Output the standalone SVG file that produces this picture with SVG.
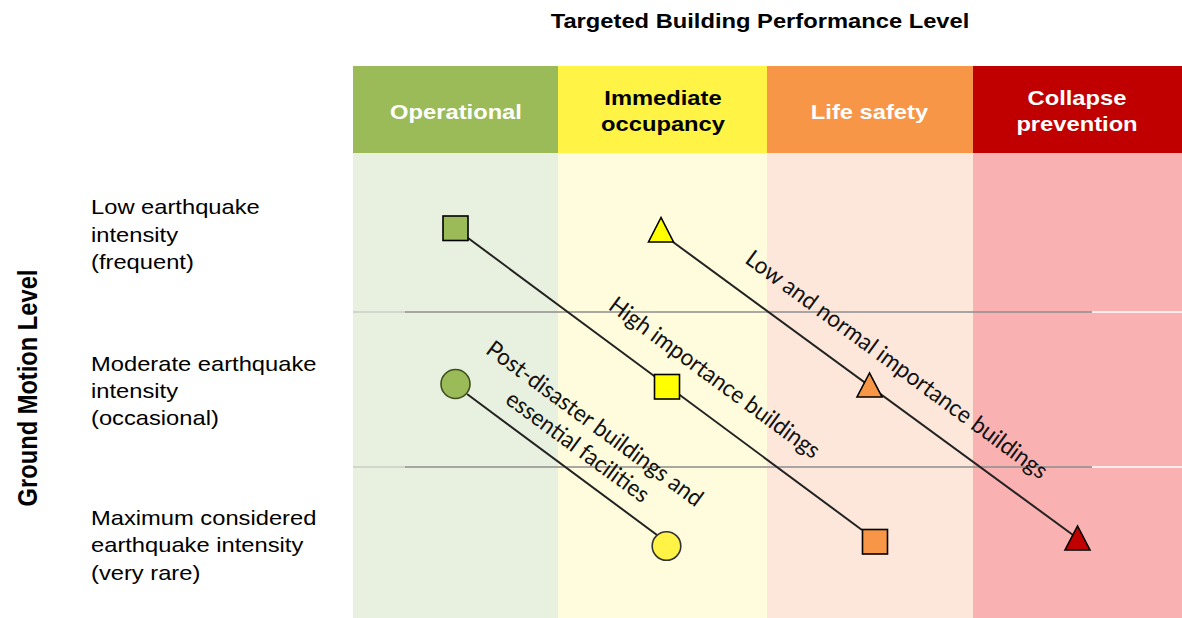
<svg xmlns="http://www.w3.org/2000/svg" width="1182" height="618" viewBox="0 0 1182 618">
  <style>
    .sans { font-family: "Liberation Sans", Arial, sans-serif; font-size: 21px; fill: #000; }
    .bold { font-weight: bold; }
    .hdr { font-family: "Liberation Sans", Arial, sans-serif; font-size: 21px; font-weight: bold; text-anchor: middle; }
    .diag { font-family: Lato, "Open Sans", sans-serif; font-size: 23.5px; fill: #111; text-anchor: middle; }
    .conn { stroke: #222; stroke-width: 2; fill: none; }
    .mark { stroke: #000; stroke-width: 1.6; }
    .divider { stroke-width: 1.5; }
  </style>

  <rect width="1182" height="618" fill="#ffffff"/>

  <!-- column body shading -->
  <g id="columns">
    <rect x="353" y="153" width="205" height="465" fill="#E8F0DF"/>
    <rect x="558" y="153" width="209" height="465" fill="#FEFCDC"/>
    <rect x="767" y="153" width="206" height="465" fill="#FCE7DA"/>
    <rect x="973" y="153" width="209" height="465" fill="#F9B1B1"/>
  </g>

  <!-- row dividers -->
  <g id="dividers">
    <line class="divider" x1="353" y1="312" x2="405" y2="312" stroke="#C9CEC2"/>
    <line class="divider" x1="405" y1="312" x2="1092" y2="312" stroke="#8E8E8E"/>
    <line class="divider" x1="1092" y1="312" x2="1182" y2="312" stroke="#FFFFFF"/>
    <line class="divider" x1="353" y1="467" x2="405" y2="467" stroke="#C9CEC2"/>
    <line class="divider" x1="405" y1="467" x2="1092" y2="467" stroke="#8E8E8E"/>
    <line class="divider" x1="1092" y1="467" x2="1182" y2="467" stroke="#FFFFFF"/>
  </g>

  <!-- axis titles -->
  <g id="title-top">
    <text class="sans bold" transform="matrix(1.13 0 0 1 760 27.5)" x="0" y="0" text-anchor="middle">Targeted Building Performance Level</text>
  </g>
  <g id="title-side">
    <text class="sans bold" style="font-size:23.7px" transform="matrix(1.13 0 0 1 36.5 388) rotate(-90)" x="0" y="0" text-anchor="middle">Ground Motion Level</text>
  </g>

  <!-- performance level headers -->
  <g id="hdr-operational">
    <rect x="353" y="66" width="205" height="87" fill="#9BBB59"/>
    <text class="hdr" fill="#FFFFFF" transform="matrix(1.13 0 0 1 456 118.5)">Operational</text>
  </g>
  <g id="hdr-immediate">
    <rect x="558" y="66" width="209" height="87" fill="#FFF445"/>
    <text class="hdr" fill="#000000" transform="matrix(1.13 0 0 1 663 105)">Immediate</text>
    <text class="hdr" fill="#000000" transform="matrix(1.13 0 0 1 663 131)">occupancy</text>
  </g>
  <g id="hdr-life">
    <rect x="767" y="66" width="206" height="87" fill="#F79646"/>
    <text class="hdr" fill="#FFFFFF" transform="matrix(1.13 0 0 1 869.5 118.5)">Life safety</text>
  </g>
  <g id="hdr-collapse">
    <rect x="973" y="66" width="209" height="87" fill="#C00000"/>
    <text class="hdr" fill="#FFFFFF" transform="matrix(1.13 0 0 1 1077 105)">Collapse</text>
    <text class="hdr" fill="#FFFFFF" transform="matrix(1.13 0 0 1 1077 131)">prevention</text>
  </g>

  <!-- ground motion rows -->
  <g id="row-low" transform="matrix(1.13 0 0 1 91 0)">
    <text class="sans" x="0" y="214.5">Low earthquake</text>
    <text class="sans" x="0" y="241.7">intensity</text>
    <text class="sans" x="0" y="268.9">(frequent)</text>
  </g>
  <g id="row-moderate" transform="matrix(1.13 0 0 1 91 0)">
    <text class="sans" x="0" y="370.7">Moderate earthquake</text>
    <text class="sans" x="0" y="397.9">intensity</text>
    <text class="sans" x="0" y="425.1">(occasional)</text>
  </g>
  <g id="row-max" transform="matrix(1.13 0 0 1 91 0)">
    <text class="sans" x="0" y="525.3">Maximum considered</text>
    <text class="sans" x="0" y="552.5">earthquake intensity</text>
    <text class="sans" x="0" y="579.7">(very rare)</text>
  </g>

  <!-- objective lines -->
  <g id="connectors">
    <line class="conn" x1="467" y1="394" x2="657" y2="535"/>
    <line class="conn" x1="468" y1="238" x2="862" y2="530"/>
    <line class="conn" x1="673" y1="242" x2="1073" y2="535"/>
  </g>

  <!-- objective labels -->
  <g id="label-post-disaster">
    <text class="diag" transform="translate(590 430) rotate(36.3)" textLength="262" lengthAdjust="spacingAndGlyphs">Post-disaster buildings and</text>
    <text class="diag" transform="translate(573 453) rotate(36.3)" textLength="171" lengthAdjust="spacingAndGlyphs">essential facilities</text>
  </g>
  <g id="label-high">
    <text class="diag" transform="translate(710 384) rotate(36.3)" textLength="255" lengthAdjust="spacingAndGlyphs">High importance buildings</text>
  </g>
  <g id="label-normal">
    <text class="diag" transform="translate(892 371) rotate(36.3)" textLength="368" lengthAdjust="spacingAndGlyphs">Low and normal importance buildings</text>
  </g>

  <!-- markers -->
  <g id="node-circle-green">
    <circle cx="455.5" cy="384" r="14.5" fill="#9BBB59" stroke="#3F4F1F" stroke-width="1.6"/>
  </g>
  <g id="node-circle-yellow">
    <circle cx="666.5" cy="546" r="14.3" fill="#FFF445" stroke="#333333" stroke-width="1.6"/>
  </g>
  <g id="node-square-green">
    <rect class="mark" x="443" y="216" width="25" height="24.5" fill="#9BBB59"/>
  </g>
  <g id="node-square-yellow">
    <rect class="mark" x="654.5" y="374.5" width="25" height="24.5" fill="#FFFF00"/>
  </g>
  <g id="node-square-orange">
    <rect class="mark" x="862.5" y="529.5" width="25" height="24.5" fill="#F79646"/>
  </g>
  <g id="node-tri-yellow">
    <polygon class="mark" points="661,217.5 648.5,242 673.5,242" fill="#FFFF00"/>
  </g>
  <g id="node-tri-orange">
    <polygon class="mark" points="869.5,373 857,397 882,397" fill="#F79646"/>
  </g>
  <g id="node-tri-red">
    <polygon class="mark" points="1077.5,526 1065,550 1090,550" fill="#C00000"/>
  </g>
</svg>
